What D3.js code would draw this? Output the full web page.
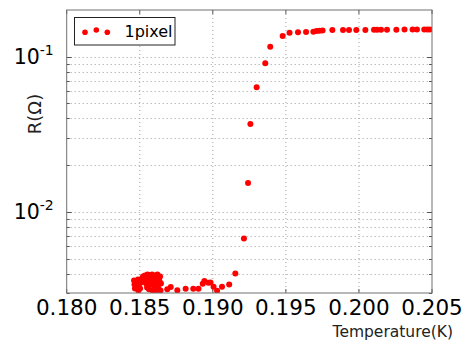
<!DOCTYPE html>
<html>
<head>
<meta charset="utf-8">
<script src="https://cdn.jsdelivr.net/npm/d3@7"></script>
<style>
html,body{margin:0;padding:0;background:#fff;}
svg{display:block;font-family:"DejaVu Sans",sans-serif;}
</style>
</head>
<body>
<svg id="chart" width="469" height="345"></svg>
<script>
// ---- data ----
const seriesName = "1pixel";
const temperature = [
  0.18461,0.18464,0.18467,0.18474,0.18481,0.18488,0.18491,0.18495,0.18502,0.18508,
  0.18515,0.18522,0.18529,0.18536,0.18543,0.18543,0.18550,0.18553,0.18556,0.18563,
  0.18567,0.18570,0.18574,0.18577,0.18584,0.18587,0.18591,0.18597,0.18601,0.18604,
  0.18608,0.18611,0.18618,0.18621,0.18625,0.18628,0.18635,0.18639,0.18645,0.18642,
  0.18688,0.18712,0.18757,0.18814,0.18866,0.18902,0.18931,0.18942,0.18969,0.18984,
  0.19005,0.19029,0.19063,0.19112,0.19154,
  0.19213,0.19241,0.19257,0.19300,0.19359,0.19393,0.19478,0.19525,0.19583,0.19638,
  0.19688,0.19710,0.19730,0.19751,0.19818,0.19891,0.19932,0.19982,0.20044,0.20103,
  0.20124,0.20151,0.20192,0.20256,0.20312,0.20367,0.20397,0.20447,0.20468,0.20486
];
const resistance = [
  0.003618,0.003409,0.003213,0.003512,0.003310,0.003672,0.003119,0.003409,0.003213,0.003512,
  0.003726,0.003839,0.003565,0.003896,0.003460,0.003726,0.003261,0.003955,0.003565,0.003167,
  0.003782,0.003896,0.003409,0.003672,0.003955,0.003119,0.003512,0.003782,0.003261,0.003896,
  0.003074,0.003618,0.003359,0.003955,0.003726,0.003213,0.003565,0.003839,0.003460,0.003119,
  0.003167,0.003280,0.003120,0.003200,0.003200,0.003200,0.003445,0.003581,0.003497,0.003510,
  0.003286,0.003107,0.003290,0.003400,0.004010,
  0.00674,0.01536,0.0368,0.0636,0.0907,0.1160,0.1358,0.1426,0.1435,0.1441,
  0.1448,0.1463,0.1469,0.1478,0.1484,0.1484,0.1484,0.1484,0.1484,0.1491,
  0.1491,0.1491,0.1491,0.1491,0.1500,0.1500,0.1500,0.1500,0.1500,0.1500
];
const xTicks = [0.180, 0.185, 0.190, 0.195, 0.200, 0.205];
const xTickLabels = ["0.180","0.185","0.190","0.195","0.200","0.205"];
const yMajorTicks = [0.01, 0.1];
const yMajorExponents = ["-2", "-1"];
const yMinorTicks = [0.003,0.004,0.005,0.006,0.007,0.008,0.009,0.02,0.03,0.04,0.05,0.06,0.07,0.08,0.09];
const xLabel = "Temperature(K)";
const yLabel = "R(\u03A9)";

// ---- layout ----
const L = 66.7, R = 432, T = 10, B = 293;
const svg = d3.select("#chart");
const x = d3.scaleLinear().domain([0.180, 0.205]).range([L, R]);
const y = d3.scaleLog().domain([0.003, 0.2]).range([B, T]);
const red = "#ff0000";
const gridColor = "#a0a0a0";

// grid
const grid = svg.append("g");
grid.selectAll("line.gx").data(xTicks.slice(1, -1)).enter().append("line")
  .attr("x1", d => x(d)).attr("x2", d => x(d)).attr("y1", T).attr("y2", B)
  .attr("stroke", gridColor).attr("stroke-width", 1).attr("stroke-dasharray", "1,3");
grid.selectAll("line.gy").data(yMajorTicks.concat(yMinorTicks).filter(d => d > 0.003)).enter().append("line")
  .attr("x1", L).attr("x2", R).attr("y1", d => Math.round(y(d)) + 0.5).attr("y2", d => Math.round(y(d)) + 0.5)
  .attr("stroke", gridColor).attr("stroke-width", 1).attr("stroke-dasharray", "1,3");

// ticks (inward, on all sides)
const tk = svg.append("g").attr("stroke", "#555").attr("stroke-width", 1);
xTicks.forEach(v => {
  tk.append("line").attr("x1", x(v)).attr("x2", x(v)).attr("y1", B).attr("y2", B - 4);
  tk.append("line").attr("x1", x(v)).attr("x2", x(v)).attr("y1", T).attr("y2", T + 4);
});
yMajorTicks.forEach(v => {
  const yy = Math.round(y(v)) + 0.5;
  tk.append("line").attr("x1", L).attr("x2", L + 5).attr("y1", yy).attr("y2", yy);
  tk.append("line").attr("x1", R).attr("x2", R - 5).attr("y1", yy).attr("y2", yy);
});
yMinorTicks.forEach(v => {
  const yy = Math.round(y(v)) + 0.5;
  tk.append("line").attr("x1", L).attr("x2", L + 3).attr("y1", yy).attr("y2", yy);
  tk.append("line").attr("x1", R).attr("x2", R - 3).attr("y1", yy).attr("y2", yy);
});

// points
svg.append("clipPath").attr("id", "clip").append("rect")
  .attr("x", L).attr("y", T).attr("width", R - L).attr("height", B - T);
const pts = temperature.map((t, i) => ({t, r: resistance[i]}));
svg.append("g").attr("clip-path", "url(#clip)")
  .selectAll("circle").data(pts).enter().append("circle")
  .attr("cx", d => x(d.t)).attr("cy", d => y(d.r)).attr("r", 3)
  .attr("fill", red);

// frame
svg.append("rect").attr("x", L).attr("y", T).attr("width", R - L).attr("height", B - T)
  .attr("fill", "none").attr("stroke", "#707070").attr("stroke-width", 1);

// x tick labels
svg.append("g").selectAll("text").data(xTicks).enter().append("text")
  .attr("x", d => x(d)).attr("y", 315)
  .attr("text-anchor", "middle").attr("font-size", 21.5).attr("fill", "#000")
  .text((d, i) => xTickLabels[i]);

// y tick labels
yMajorTicks.forEach((v, i) => {
  const t = svg.append("text").attr("x", L - 13).attr("y", y(v) + 7.5)
    .attr("text-anchor", "end").attr("fill", "#000").attr("font-size", 20.5);
  t.append("tspan").text("10");
  t.append("tspan").attr("font-size", 14).attr("dy", -9).text(yMajorExponents[i]);
});

// axis labels
svg.append("text").attr("x", 453).attr("y", 337).attr("text-anchor", "end")
  .attr("font-size", 15.5).attr("fill", "#222").text(xLabel);
svg.append("text").attr("transform", "translate(41,114) rotate(-90)")
  .attr("text-anchor", "middle").attr("font-size", 18).attr("fill", "#222").text(yLabel);

// legend
svg.append("rect").attr("x", 74.5).attr("y", 17.5).attr("width", 100.5).attr("height", 27.5)
  .attr("fill", "#fff").attr("stroke", "#222").attr("stroke-width", 1);
const legDots = [[85, 32.3], [96.3, 30], [107.3, 32.3]];
svg.append("g").selectAll("circle").data(legDots).enter().append("circle")
  .attr("cx", d => d[0]).attr("cy", d => d[1]).attr("r", 2.8).attr("fill", red);
svg.append("text").attr("x", 124.5).attr("y", 36.7).attr("font-size", 16)
  .attr("fill", "#000").text(seriesName);
</script>
</body>
</html>
